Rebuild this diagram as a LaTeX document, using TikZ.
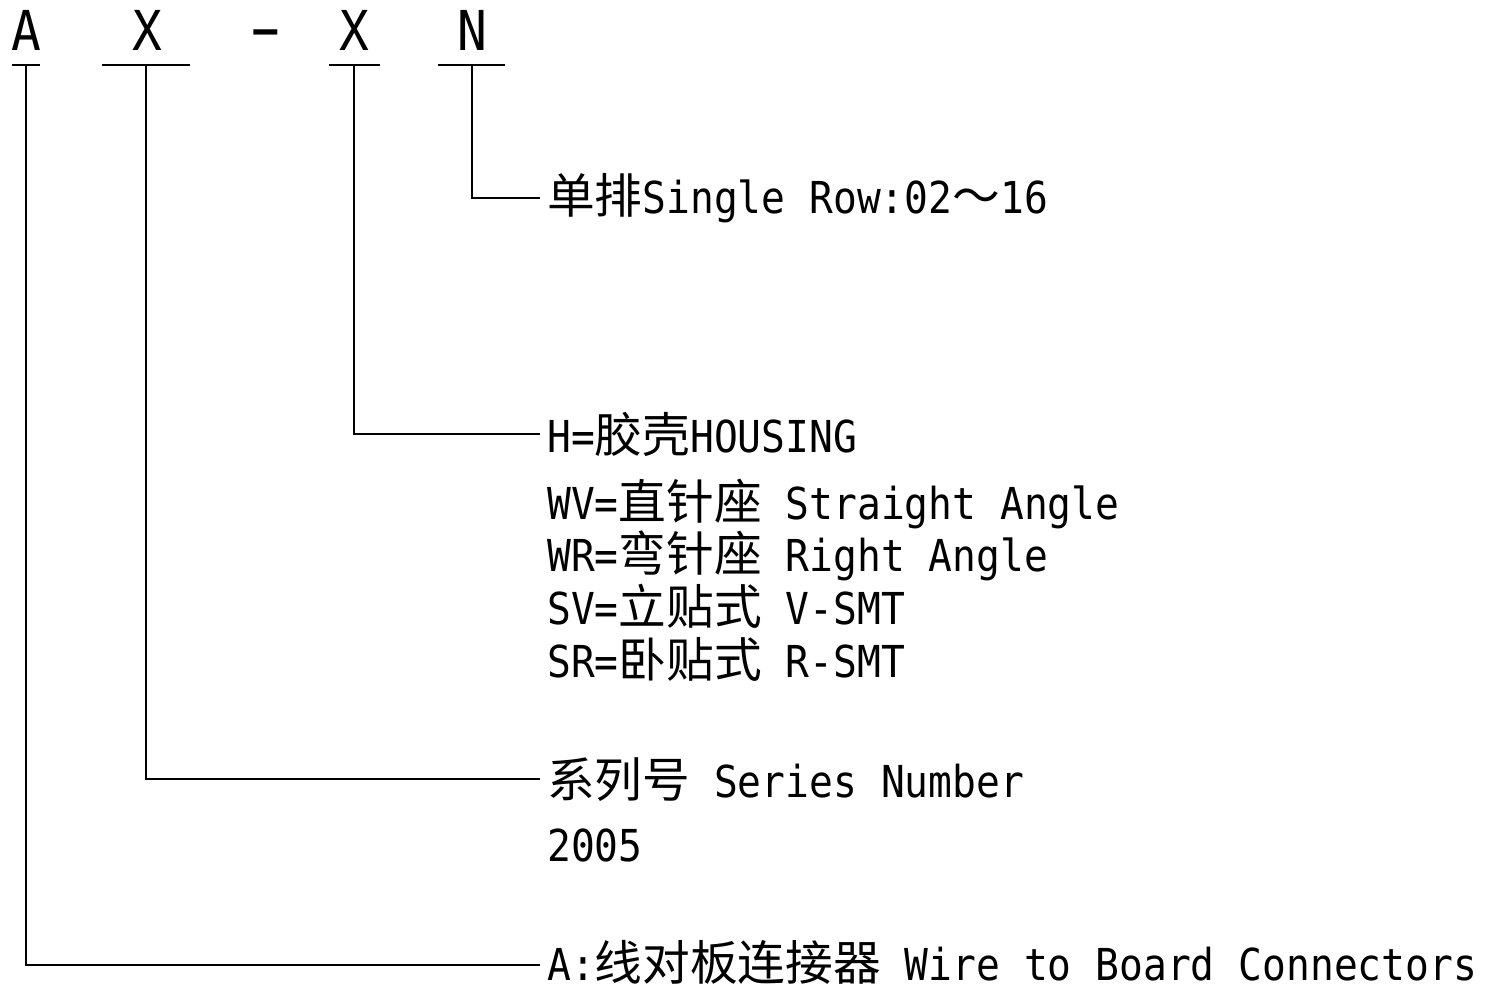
\documentclass[tikz,border=0pt]{standalone}
\usepackage{fontspec}
\usepackage{graphicx}
\setmainfont{DejaVu Sans Mono}[FakeStretch=0.9]
\newfontfamily\cjkfont{Noto Sans CJK SC}
\newcommand{\zh}[1]{{\cjkfont\fontsize{47.7}{50}\selectfont #1}}
\begin{document}
\begin{tikzpicture}[x=1pt,y=-1pt,
  conn/.style={line width=1.6pt,black},
  toplet/.style={anchor=base,inner sep=0pt,font=\fontsize{55}{60}\selectfont},
  desc/.style={anchor=base west,inner xsep=7pt,inner ysep=0pt,font=\fontsize{44}{52}\selectfont}]
\useasboundingbox (0,0) rectangle (1485,989);
% top code letters
\node[toplet] (lA)  at (26,50)  {A};
\node[toplet] (lX1) at (147,50) {X};
\node[toplet] (ldash) at (266,50) {\scalebox{1.9}[1.2]{-}};
\node[toplet] (lX2) at (354,50) {X};
\node[toplet] (lN)  at (472,50) {N};
% underline anchors
\coordinate (uA)  at (26,65);
\coordinate (uX1) at (146,65);
\coordinate (uX2) at (354,65);
\coordinate (uN)  at (472,65);
\draw[conn] (12,65) -- (40,65);
\draw[conn] (102,65) -- (190,65);
\draw[conn] (329,65) -- (380,65);
\draw[conn] (438,65) -- (505,65);
% descriptions
\node[desc] (tN)  at (540,213) {\zh{单排}Single Row:02\zh{～}16};
\node[desc] (tX2) at (540,452) {H=\zh{胶壳}HOUSING};
\node[desc] (tWV) at (540,519) {WV=\zh{直针座} Straight Angle};
\node[desc] (tWR) at (540,571) {WR=\zh{弯针座} Right Angle};
\node[desc] (tSV) at (540,624) {SV=\zh{立贴式} V-SMT};
\node[desc] (tSR) at (540,677) {SR=\zh{卧贴式} R-SMT};
\node[desc] (tX1) at (540,797) {\zh{系列号} Series Number};
\node[desc] (t05) at (540,861) {2005};
\node[desc] (tA)  at (540,980) {A:\zh{线对板连接器} Wire to Board Connectors};
% connectors
\draw[conn] (uN)  |- (tN.west);
\draw[conn] (uX2) |- (tX2.west);
\draw[conn] (uX1) |- (tX1.west);
\draw[conn] (uA)  |- ([yshift=-3pt]tA.west);
\end{tikzpicture}
\end{document}
